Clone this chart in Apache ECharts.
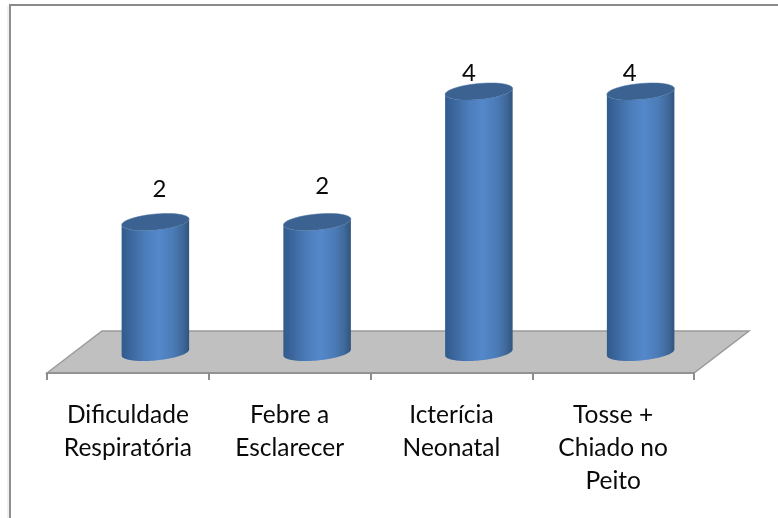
<!DOCTYPE html>
<html>
<head>
<meta charset="utf-8">
<style>html,body{margin:0;padding:0;background:#fff}#c{width:778px;height:518px}</style>
<script src="https://cdn.jsdelivr.net/npm/echarts@6/dist/echarts.min.js"></script>
</head>
<body>
<div id="c"></div>
<script>
const categories = ['Dificuldade\nRespiratória', 'Febre a\nEsclarecer', 'Icterícia\nNeonatal', 'Tosse +\nChiado no\nPeito'];
const values = [2, 2, 4, 4];
const labelNudge = [[4, -15], [5, -18], [-10, 0], [-11, 0]];

const DEPTH_X = 55, DEPTH_Y = 42;
const MID_X = 27.5, MID_Y = 20.5;
const RX = 33.75, RY = 8, SHEAR = 3;

function rim(cx, cy, from, to) {
  const pts = [];
  const n = 48;
  for (let k = 0; k <= n; k++) {
    const t = from + (to - from) * k / n;
    pts.push([cx + RX * Math.cos(t), cy - SHEAR * Math.cos(t) + RY * Math.sin(t)]);
  }
  return pts;
}
const sideFill = {
  type: 'linear', x: 0, y: 0, x2: 1, y2: 0,
  colorStops: [
    { offset: 0, color: '#315a8c' },
    { offset: 0.15, color: '#3d689f' },
    { offset: 0.35, color: '#4b7dba' },
    { offset: 0.55, color: '#5488cb' },
    { offset: 0.75, color: '#4c7cb8' },
    { offset: 0.9, color: '#406a9c' },
    { offset: 1, color: '#31547e' }
  ]
};

const chart = echarts.init(document.getElementById('c'), null, { renderer: 'canvas' });
chart.setOption({
  animation: false,
  backgroundColor: '#ffffff',
  graphic: [
    { type: 'line', silent: true, shape: { x1: 8, y1: 6, x2: 8, y2: 518 }, style: { stroke: '#e2e2e2', lineWidth: 1 } },
    { type: 'line', silent: true, shape: { x1: 10, y1: 5, x2: 10, y2: 518 }, style: { stroke: '#8f8f8f', lineWidth: 2 } },
    { type: 'line', silent: true, shape: { x1: 9, y1: 5, x2: 778, y2: 5 }, style: { stroke: '#8a8a8a', lineWidth: 2 } }
  ],
  grid: { left: 47, right: 84, top: 112, bottom: 145, containLabel: false },
  xAxis: {
    type: 'category',
    data: categories,
    z: 5,
    axisLine: { show: true, lineStyle: { color: '#939393', width: 2 } },
    axisTick: { show: true, alignWithLabel: false, length: 7, lineStyle: { color: '#8c8c8c', width: 2 } },
    axisLabel: {
      interval: 0, margin: 26, color: '#0a0a0a',
      fontFamily: 'Lato', fontSize: 24.5, lineHeight: 33, align: 'center'
    },
    splitLine: { show: false }
  },
  yAxis: { type: 'value', min: 0, max: 4, show: false, splitLine: { show: false } },
  series: [
    {
      type: 'custom',
      z: 1,
      silent: true,
      coordinateSystem: 'cartesian2d',
      data: [0],
      encode: { x: -1, y: -1 },
      renderItem: function (params) {
        const g = params.coordSys;
        const y0 = g.y + g.height, x0 = g.x, x1 = g.x + g.width;
        return {
          type: 'polygon',
          shape: { points: [[x0, y0], [x0 + DEPTH_X, y0 - DEPTH_Y], [x1 + DEPTH_X, y0 - DEPTH_Y], [x1, y0]] },
          style: { fill: '#c0c0c0', stroke: '#9a9a9a', lineWidth: 1.5 }
        };
      }
    },
    {
      type: 'custom',
      z: 3,
      silent: true,
      coordinateSystem: 'cartesian2d',
      data: values.map((v, i) => [i, v]),
      encode: { x: 0, y: 1 },
      renderItem: function (params, api) {
        const i = api.value(0), v = api.value(1);
        const top = api.coord([i, v]);
        const base = api.coord([i, 0]);
        const cx = top[0] + MID_X;
        const yt = top[1] - MID_Y, yb = base[1] - MID_Y;
        const side = rim(cx, yb, 0, Math.PI).concat(rim(cx, yt, Math.PI, 0));
        const nudge = labelNudge[params.dataIndex];
        return {
          type: 'group',
          children: [
            { type: 'polygon', shape: { points: side }, style: { fill: sideFill } },
            { type: 'polygon', shape: { points: rim(cx, yt, 0, 2 * Math.PI) }, style: { fill: '#3b6290', stroke: '#4a73a5', lineWidth: 0.5 } },
            {
              type: 'text',
              style: {
                x: cx + nudge[0], y: yt + nudge[1] - 18, text: String(v),
                fill: '#0a0a0a', font: '24px Lato', align: 'center', verticalAlign: 'middle'
              }
            }
          ]
        };
      }
    }
  ]
});
</script>
</body>
</html>
